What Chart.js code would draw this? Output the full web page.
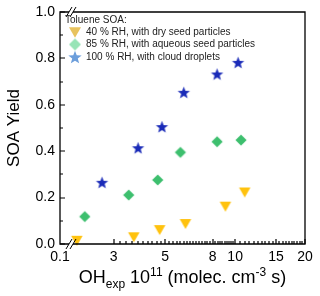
<!DOCTYPE html>
<html>
<head>
<meta charset="utf-8">
<script src="https://cdn.jsdelivr.net/npm/chart.js@4.4.1/dist/chart.umd.min.js"></script>
<style>
    html, body { margin: 0; padding: 0; background: #fff; }
    #grafic { display: block; }
</style>
</head>
<body>
<canvas id="grafic" width="320" height="296"></canvas>
<script>
// date (OH exposure in 1e11 molec cm-3 s, randament SOA)
const seriesLabels = [
    '40 % RH, with dry seed particles',
    '85 % RH, with aqueous seed particles',
    '100 % RH, with cloud droplets'
];
const dryX = [2.08, 3.66, 4.73, 6.11, 9.08, 11.0];
const dryY = [0.014, 0.029, 0.060, 0.086, 0.161, 0.222];
const aqX = [2.25, 3.48, 4.64, 5.81, 8.36, 10.6];
const aqY = [0.118, 0.211, 0.276, 0.395, 0.441, 0.448];
const cloudX = [2.67, 3.82, 4.84, 6.01, 8.36, 10.3];
const cloudY = [0.266, 0.415, 0.506, 0.654, 0.733, 0.783];

const xMin = 1.76;   // capatul din stanga (dupa ruptura axei), etichetat 0.1
const xMax = 20;
const xTickValues = [3, 5, 8, 10, 15, 20];
const yTickValues = [0, 0.2, 0.4, 0.6, 0.8, 1.0];
const yMinorValues = [0.1, 0.3, 0.5, 0.7, 0.9];

const FONT = "'Liberation Sans', Arial, sans-serif";
const AXIS = '#000';

// markere desenate pe canvas, centrate pe mijlocul lor
function makeStar(color, r) {
    const c = document.createElement('canvas');
    c.width = c.height = Math.ceil(r * 2 + 2);
    const g = c.getContext('2d');
    const cx = c.width / 2, cy = c.height / 2 + r * 0.1;
    g.fillStyle = color;
    g.beginPath();
    for (let i = 0; i < 10; i++) {
        const rad = i % 2 === 0 ? r : r * 0.42;
        const a = -Math.PI / 2 + i * Math.PI / 5;
        const px = cx + Math.cos(a) * rad, py = cy + Math.sin(a) * rad;
        if (i === 0) g.moveTo(px, py); else g.lineTo(px, py);
    }
    g.closePath();
    g.fill();
    return c;
}

function makeTriangle(color, w, h) {
    const c = document.createElement('canvas');
    c.width = Math.ceil(w + 2);
    c.height = Math.ceil(h + 2);
    const g = c.getContext('2d');
    const cx = c.width / 2, cy = c.height / 2;
    g.fillStyle = color;
    g.beginPath();
    g.moveTo(cx - w / 2, cy - h / 2);
    g.lineTo(cx + w / 2, cy - h / 2);
    g.lineTo(cx, cy + h / 2);
    g.closePath();
    g.fill();
    return c;
}

function makeDiamond(color, r) {
    const c = document.createElement('canvas');
    c.width = c.height = Math.ceil(r * 2 + 2);
    const g = c.getContext('2d');
    const cx = c.width / 2, cy = c.height / 2;
    g.fillStyle = color;
    g.beginPath();
    g.moveTo(cx, cy - r);
    g.lineTo(cx + r, cy);
    g.lineTo(cx, cy + r);
    g.lineTo(cx - r, cy);
    g.closePath();
    g.fill();
    return c;
}

const markers = [
    makeTriangle('#ffc20e', 11.5, 10),
    makeDiamond('#3dbf6e', 5.6),
    makeStar('#1a2bb8', 6.5)
];
const legendMarkers = [
    makeTriangle('#e8c35e', 12, 10.5),
    makeDiamond('#98e4b6', 6),
    makeStar('#6c9edb', 7)
];

function toPoints(xs, ys) {
    return xs.map((x, i) => ({ x: x, y: ys[i] }));
}

// rama, tick-uri spre interior, ruptura axei, legenda si titlul axei X
const decorPlugin = {
    id: 'decor',
    afterDraw(chart) {
        const ctx = chart.ctx;
        const a = chart.chartArea;
        const xs = chart.scales.x, ys = chart.scales.y;
        const L = Math.round(a.left), R = Math.round(a.right);
        const T = Math.round(a.top), B = Math.round(a.bottom);

        ctx.save();
        ctx.strokeStyle = AXIS;
        ctx.lineWidth = 1.3;
        ctx.beginPath();
        ctx.moveTo(L, T); ctx.lineTo(R, T); ctx.lineTo(R, B); ctx.lineTo(L, B); ctx.closePath();
        ctx.stroke();

        ctx.lineWidth = 1.2;
        ctx.beginPath();
        yTickValues.forEach(v => {
            const y = Math.round(ys.getPixelForValue(v));
            ctx.moveTo(L, y); ctx.lineTo(L + 5, y);
        });
        yMinorValues.forEach(v => {
            const y = Math.round(ys.getPixelForValue(v));
            ctx.moveTo(L, y); ctx.lineTo(L + 3, y);
        });
        xTickValues.forEach(v => {
            const x = Math.round(xs.getPixelForValue(v));
            ctx.moveTo(x, B); ctx.lineTo(x, B - 5);
        });
        for (let k = 16; k < 100; k++) {
            const v = k <= 50 ? k / 5 : 10 + (k - 50) / 2;
            if (v >= 20) break;
            if (xTickValues.includes(v)) continue;
            const x = Math.round(xs.getPixelForValue(v));
            ctx.moveTo(x, B); ctx.lineTo(x, B - 3);
        }
        ctx.stroke();

        // semnul de ruptura "//"
        ctx.lineWidth = 1;
        [B, T].forEach(yb => {
            ctx.fillStyle = '#fff';
            ctx.fillRect(L + 9, yb - 1.5, 4, 3);
            ctx.beginPath();
            ctx.moveTo(L + 6, yb + 5);
            ctx.lineTo(L + 12, yb - 5);
            ctx.moveTo(L + 10, yb + 5);
            ctx.lineTo(L + 16, yb - 5);
            ctx.stroke();
        });

        // legenda
        ctx.fillStyle = '#222';
        ctx.font = '10px ' + FONT;
        ctx.textBaseline = 'middle';
        ctx.textAlign = 'left';
        ctx.fillText('Toluene SOA:', a.left + 5, a.top + 8);
        const rows = [a.top + 20.5, a.top + 32.5, a.top + 45];
        seriesLabels.forEach((lab, i) => {
            const m = legendMarkers[i];
            ctx.drawImage(m, a.left + 15 - m.width / 2, rows[i] - m.height / 2);
            ctx.fillText(lab, a.left + 26, rows[i]);
        });

        // titlul axei X cu indice si exponent
        const parts = [
            { t: 'OH', s: 18, dy: 0 },
            { t: 'exp', s: 12, dy: 5 },
            { t: ' 10', s: 18, dy: 0 },
            { t: '11', s: 12, dy: -7 },
            { t: ' (molec. cm', s: 18, dy: 0 },
            { t: '-3', s: 12, dy: -7 },
            { t: ' s)', s: 18, dy: 0 }
        ];
        ctx.fillStyle = '#000';
        ctx.textBaseline = 'alphabetic';
        let total = 0;
        parts.forEach(p => {
            ctx.font = p.s + 'px ' + FONT;
            p.w = ctx.measureText(p.t).width;
            total += p.w;
        });
        let x = (a.left + a.right) / 2 - total / 2;
        const base = 283;
        parts.forEach(p => {
            ctx.font = p.s + 'px ' + FONT;
            ctx.fillText(p.t, x, base + p.dy);
            x += p.w;
        });
        ctx.restore();
    }
};

const ctx = document.getElementById('grafic').getContext('2d');

const chart = new Chart(ctx, {
    type: 'scatter',
    data: {
        datasets: [
            { label: seriesLabels[0], data: toPoints(dryX, dryY), pointStyle: markers[0], pointRadius: 6, clip: false },
            { label: seriesLabels[1], data: toPoints(aqX, aqY), pointStyle: markers[1], pointRadius: 6, clip: false },
            { label: seriesLabels[2], data: toPoints(cloudX, cloudY), pointStyle: markers[2], pointRadius: 6, clip: false }
        ]
    },
    options: {
        responsive: false,
        animation: false,
        layout: { padding: { top: 12, right: 15, left: 0, bottom: 0 } },
        plugins: {
            legend: { display: false },
            tooltip: { enabled: false }
        },
        scales: {
            x: {
                type: 'logarithmic',
                min: xMin,
                max: xMax,
                afterFit: (s) => { s.height = 52; s.paddingLeft = 0; s.paddingRight = 0; },
                afterBuildTicks: (s) => {
                    s.ticks = [xMin].concat(xTickValues).map(v => ({ value: v }));
                },
                grid: { display: false, drawTicks: false },
                border: { display: false },
                ticks: {
                    autoSkip: false,
                    maxRotation: 0,
                    padding: 5,
                    color: '#000',
                    font: { family: FONT, size: 14 },
                    callback: (v) => v === xMin ? '0.1' : String(v)
                }
            },
            y: {
                min: 0,
                max: 1,
                afterFit: (s) => { s.width = 60; s.paddingTop = 0; s.paddingBottom = 0; },
                afterBuildTicks: (s) => {
                    s.ticks = yTickValues.map(v => ({ value: v }));
                },
                grid: { display: false, drawTicks: false },
                border: { display: false },
                ticks: {
                    padding: 5,
                    color: '#000',
                    font: { family: FONT, size: 14 },
                    callback: (v) => Number(v).toFixed(1)
                },
                title: {
                    display: true,
                    text: 'SOA Yield',
                    color: '#000',
                    font: { family: FONT, size: 17 },
                    padding: { top: 4, bottom: 0 }
                }
            }
        }
    },
    plugins: [decorPlugin]
});
</script>
</body>
</html>
